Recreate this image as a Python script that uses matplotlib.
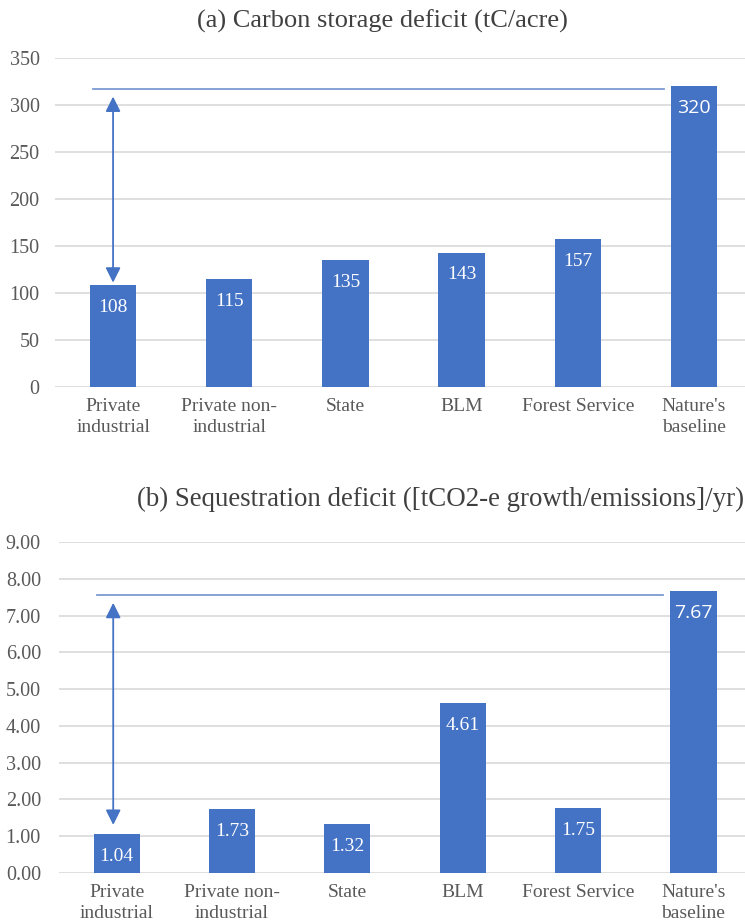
import matplotlib
matplotlib.use("Agg")
import matplotlib.pyplot as plt

# data
categories = ["Private\nindustrial", "Private non-\nindustrial", "State",
              "BLM", "Forest Service", "Nature's\nbaseline"]
storage = [108, 115, 135, 143, 157, 320]
sequestration = [1.04, 1.73, 1.32, 4.61, 1.75, 7.67]
storage_labels = ["108", "115", "135", "143", "157", "320"]
seq_labels = ["1.04", "1.73", "1.32", "4.61", "1.75", "7.67"]

# annotation: gap between private industrial and nature's baseline
gap_a = (111, 309, 317)   # arrow bottom, arrow top, reference line
gap_b = (1.30, 7.35, 7.56)

BLUE = "#4472C4"
LINE = "#7c9bd3"
GRID = "#d9d9d9"
TXT = "#595959"

plt.rcParams["font.family"] = ["Liberation Serif", "DejaVu Serif"]

fig = plt.figure(figsize=(7.45, 9.24), dpi=100)
ax_a = fig.add_axes([0.0738, 0.5812, 0.9356, 0.356])
ax_b = fig.add_axes([0.0792, 0.0556, 0.929, 0.3575])


def draw(ax, vals, labels, ylim, step, fmt, gap, ypad, arrow_x):
    x = range(len(vals))
    bars = ax.bar(x, vals, width=0.40, color=BLUE, zorder=3)
    ax.set_xlim(-0.5, len(vals) - 0.5)
    ax.set_ylim(0, ylim)
    ticks = [i * step for i in range(int(round(ylim / step)) + 1)]
    ax.set_yticks(ticks)
    ax.set_yticklabels([fmt.format(t) for t in ticks])
    ax.set_xticks(list(x))
    ax.set_xticklabels(categories, linespacing=1.3)
    ax.tick_params(axis="y", length=0, pad=ypad, labelsize=14.5, labelcolor=TXT)
    ax.tick_params(axis="x", length=0, pad=8, labelsize=14, labelcolor=TXT)
    ax.grid(axis="y", color=GRID, linewidth=1.2, zorder=0)
    for s in ax.spines.values():
        s.set_visible(False)

    for b, lab in zip(bars, labels):
        fam = ["Open Sans"] if lab == labels[-1] else ["Liberation Serif"]
        ax.annotate(lab, (b.get_x() + b.get_width() / 2, b.get_height()),
                    xytext=(0, -16), textcoords="offset points",
                    ha="center", va="center", color="white",
                    fontsize=14, family=fam, zorder=4)

    lo, hi, ref = gap
    ax.plot([-0.17, len(vals) - 1.26], [ref, ref], color=LINE, lw=1.3, zorder=4)
    ax.annotate("", xy=(arrow_x, lo), xytext=(arrow_x, hi),
                arrowprops=dict(arrowstyle="<|-|>,head_length=0.5,head_width=0.25",
                                color=LINE, lw=1.3, mutation_scale=18,
                                shrinkA=0, shrinkB=0, fc=BLUE, ec=BLUE),
                zorder=4)


draw(ax_a, storage, storage_labels, 350, 50, "{:.0f}", gap_a, 11, 0.0)
draw(ax_b, sequestration, seq_labels, 9, 1, "{:.2f}", gap_b, 13, -0.03)

fig.text(0.513, 0.977, "(a) Carbon storage deficit (tC/acre)", ha="center",
         va="center", fontsize=19, color="#404040")
fig.text(0.184, 0.459, "(b) Sequestration deficit ([tCO2-e growth/emissions]/yr)",
         ha="left", va="center", fontsize=19.4, color="#404040")

fig.savefig("out.png", dpi=100)
